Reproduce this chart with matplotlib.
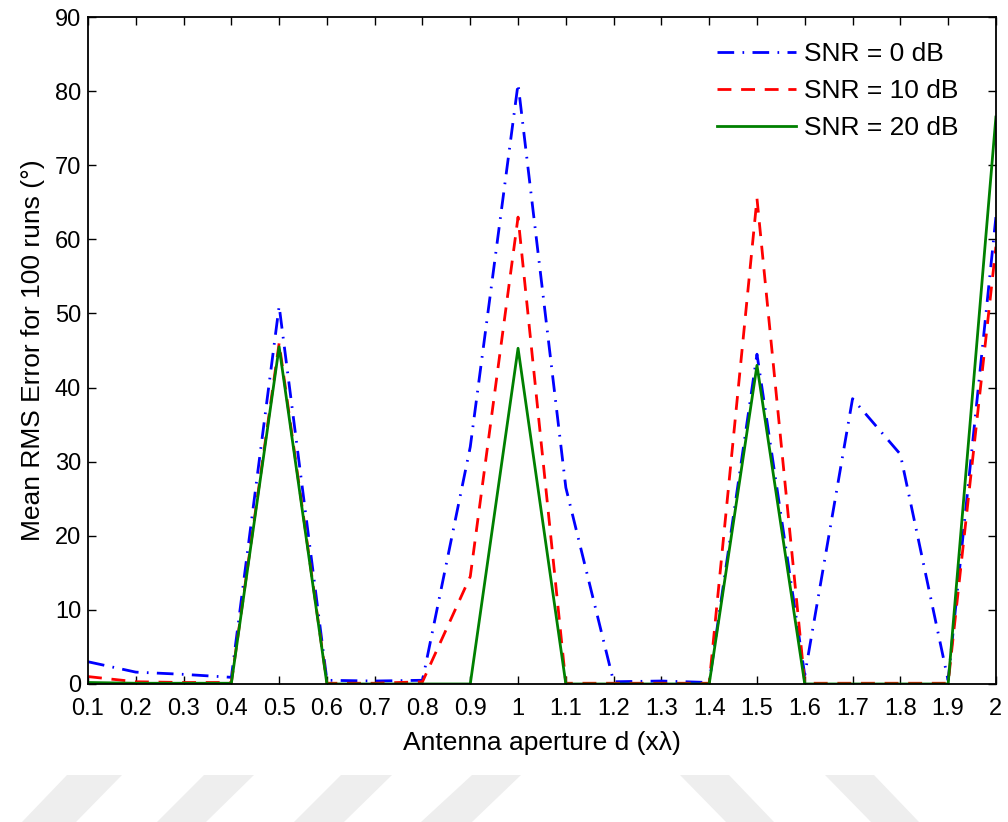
import numpy as np
import matplotlib
matplotlib.use('Agg')
import matplotlib.pyplot as plt
from matplotlib.patches import Polygon
from matplotlib.ticker import FuncFormatter

# Antenna aperture d (in wavelengths)
d = [0.1, 0.2, 0.3, 0.4, 0.5, 0.6, 0.7, 0.8, 0.9, 1.0,
     1.1, 1.2, 1.3, 1.4, 1.5, 1.6, 1.7, 1.8, 1.9, 2.0]

# Mean RMS error (deg) for each SNR
snr0 = [3.0, 1.6, 1.3, 0.9, 51.0, 0.5, 0.4, 0.5, 32.0, 81.0,
        26.5, 0.3, 0.4, 0.2, 44.5, 1.2, 38.5, 31.0, 0.5, 63.0]
snr10 = [1.0, 0.3, 0.2, 0.2, 46.0, 0.1, 0.1, 0.3, 14.5, 63.0,
         0.1, 0.1, 0.1, 0.1, 65.5, 0.1, 0.1, 0.1, 0.1, 59.0]
snr20 = [0.2, 0.1, 0.1, 0.1, 45.5, 0.0, 0.0, 0.0, 0.0, 45.3,
         0.0, 0.0, 0.0, 0.0, 43.0, 0.0, 0.0, 0.0, 0.0, 76.5]

plt.rcParams['font.family'] = ['Liberation Sans', 'DejaVu Sans']

fig = plt.figure(figsize=(10.08, 8.22), dpi=100)
ax = fig.add_axes([0.0873, 0.1679, 0.9007, 0.8114])

ax.plot(d, snr0, color='blue', linewidth=2, linestyle=(0, (6, 3, 0.6, 3)), label='SNR = 0 dB')
ax.plot(d, snr10, color='red', linewidth=2, linestyle=(0, (5, 3.5)), label='SNR = 10 dB')
ax.plot(d, snr20, color='green', linewidth=2, linestyle='-', label='SNR = 20 dB')

ax.set_xlim(0.1, 2.0)
ax.set_ylim(0, 90)
ax.set_xticks(d)
ax.set_yticks(np.arange(0, 91, 10))
ax.xaxis.set_major_formatter(FuncFormatter(lambda v, p: '%g' % round(v, 1)))
ax.tick_params(direction='in', top=True, right=True, labelsize=17, length=6, width=1)
ax.tick_params(axis='x', pad=10)
ax.tick_params(axis='y', pad=5)
for s in ax.spines.values():
    s.set_linewidth(1.3)

ax.set_xlabel('Antenna aperture d (xλ)', fontsize=19, labelpad=8)
ax.set_ylabel('Mean RMS Error for 100 runs (°)', fontsize=19, labelpad=7)

ax.legend(loc='upper right', frameon=False, fontsize=19, handlelength=3.0,
          handletextpad=0.3, labelspacing=0.5, bbox_to_anchor=(0.985, 0.998))

# faint watermark stripes at the bottom of the page
stripes = [
    [(67, 775), (122, 775), (76, 822), (22, 822)],
    [(204, 775), (254, 775), (206, 822), (157, 822)],
    [(341, 775), (392, 775), (344, 822), (294, 822)],
    [(472, 775), (521, 775), (472, 822), (421, 822)],
    [(680, 775), (729, 775), (774, 822), (726, 822)],
    [(825, 775), (874, 775), (919, 822), (871, 822)],
]
for pts in stripes:
    poly = Polygon([(x / 1008, 1 - y / 822) for x, y in pts], closed=True,
                   facecolor='#eeeeee', edgecolor='none', transform=fig.transFigure)
    fig.add_artist(poly)

fig.savefig('out.png', dpi=100)
